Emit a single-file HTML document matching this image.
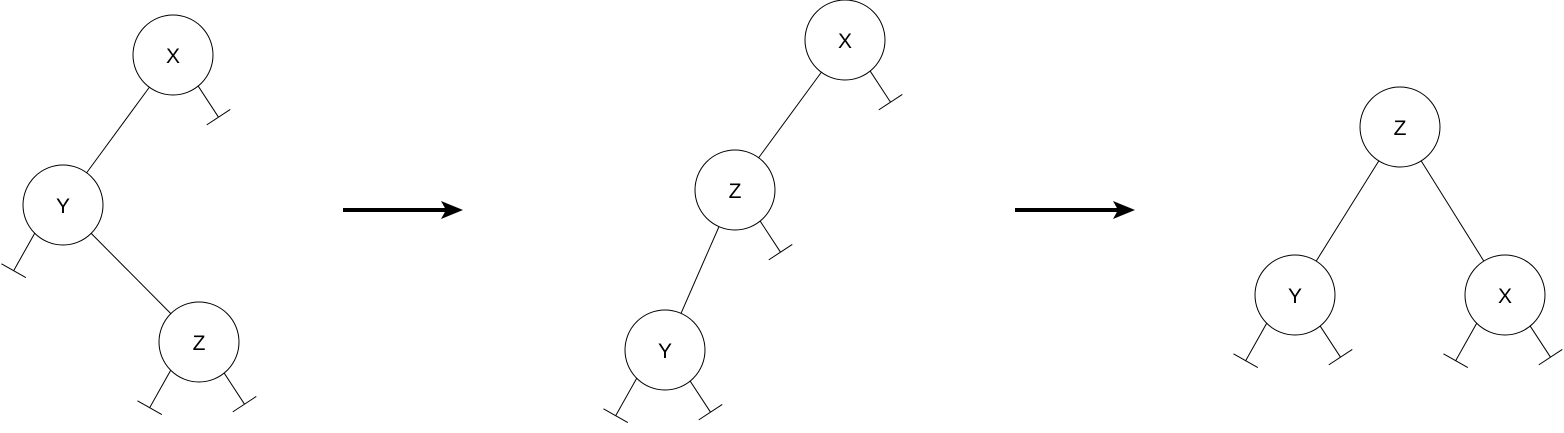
<!DOCTYPE html>
<html><head><meta charset="utf-8"><style>
html,body{margin:0;padding:0;background:#fff;}
svg{display:block;}
text{font-family:"Liberation Sans",sans-serif;font-size:21px;fill:#000;}
</style></head><body>
<svg id="c" width="1564" height="433" viewBox="0 0 1564 433" xmlns="http://www.w3.org/2000/svg">
<g id="arrows">
<line x1="343" y1="210" x2="447" y2="210" stroke="#000" stroke-width="4"/>
<polygon points="441,201 463,210 441,219 446,210" fill="#000"/>
<line x1="1015" y1="210" x2="1119" y2="210" stroke="#000" stroke-width="4"/>
<polygon points="1113,201 1135,210 1113,219 1118,210" fill="#000"/>
</g>
</svg>
<script>
const R = 40;
const nodeLabels = ["X","Y","Z","X","Z","Y","Z","Y","X"];
const nodeX = [173,63,199,845,735,665,1400,1295,1505];
const nodeY = [55,205,342,40,190,350,127,295,295];
const edgeFrom = [0,1,3,4,6,6];
const edgeTo   = [1,2,4,5,7,8];
const stubNode = [0,1,2,2,3,4,5,5,7,7,8,8];
const stubSide = ["R","L","L","R","R","R","L","R","L","R","L","R"];

const svg = document.getElementById('c');
const NS = "http://www.w3.org/2000/svg";
function line(x1,y1,x2,y2,name){
  const l = document.createElementNS(NS,'line');
  l.setAttribute('x1',x1);l.setAttribute('y1',y1);l.setAttribute('x2',x2);l.setAttribute('y2',y2);
  l.setAttribute('stroke','#000');l.setAttribute('stroke-width','1');
  
  
  svg.appendChild(l);
}
edgeFrom.forEach((a,i)=>{
  const b = edgeTo[i];
  const dx = nodeX[b]-nodeX[a], dy = nodeY[b]-nodeY[a], d = Math.hypot(dx,dy);
  const ux = dx/d, uy = dy/d;
  line(nodeX[a]+ux*R, nodeY[a]+uy*R, nodeX[b]-ux*R, nodeY[b]-uy*R, 'edge-'+nodeLabels[a].toLowerCase()+'-'+nodeLabels[b].toLowerCase());
});
stubNode.forEach((n,i)=>{
  const right = stubSide[i]==="R";
  const ang = right ? 51*Math.PI/180 : 135*Math.PI/180;
  const sx = nodeX[n]+R*Math.cos(ang), sy = nodeY[n]+R*Math.sin(ang);
  const dx = right?0.55:-0.49, dy = right?0.84:0.87, len = right?37:43;
  const ex = sx+dx*len, ey = sy+dy*len;
  line(sx,sy,ex,ey,'null-stub-'+nodeLabels[n].toLowerCase()+'-'+(right?'right':'left'));
  const px = -dy, py = dx, h = 14;
  line(ex-px*h, ey-py*h, ex+px*h, ey+py*h, 'null-bar-'+nodeLabels[n].toLowerCase()+'-'+(right?'right':'left'));
});
nodeLabels.forEach((lab,i)=>{
  const g = document.createElementNS(NS,'g');
  
  
  const c = document.createElementNS(NS,'circle');
  c.setAttribute('cx',nodeX[i]);c.setAttribute('cy',nodeY[i]);c.setAttribute('r',R);
  c.setAttribute('fill','#fff');c.setAttribute('stroke','#000');c.setAttribute('stroke-width','1');
  
  
  const t = document.createElementNS(NS,'text');
  t.setAttribute('x',nodeX[i]);t.setAttribute('y',nodeY[i]+8);t.setAttribute('text-anchor','middle');
  t.textContent = lab;
  
  
  g.appendChild(c);g.appendChild(t);svg.appendChild(g);
});
</script>
</body></html>
